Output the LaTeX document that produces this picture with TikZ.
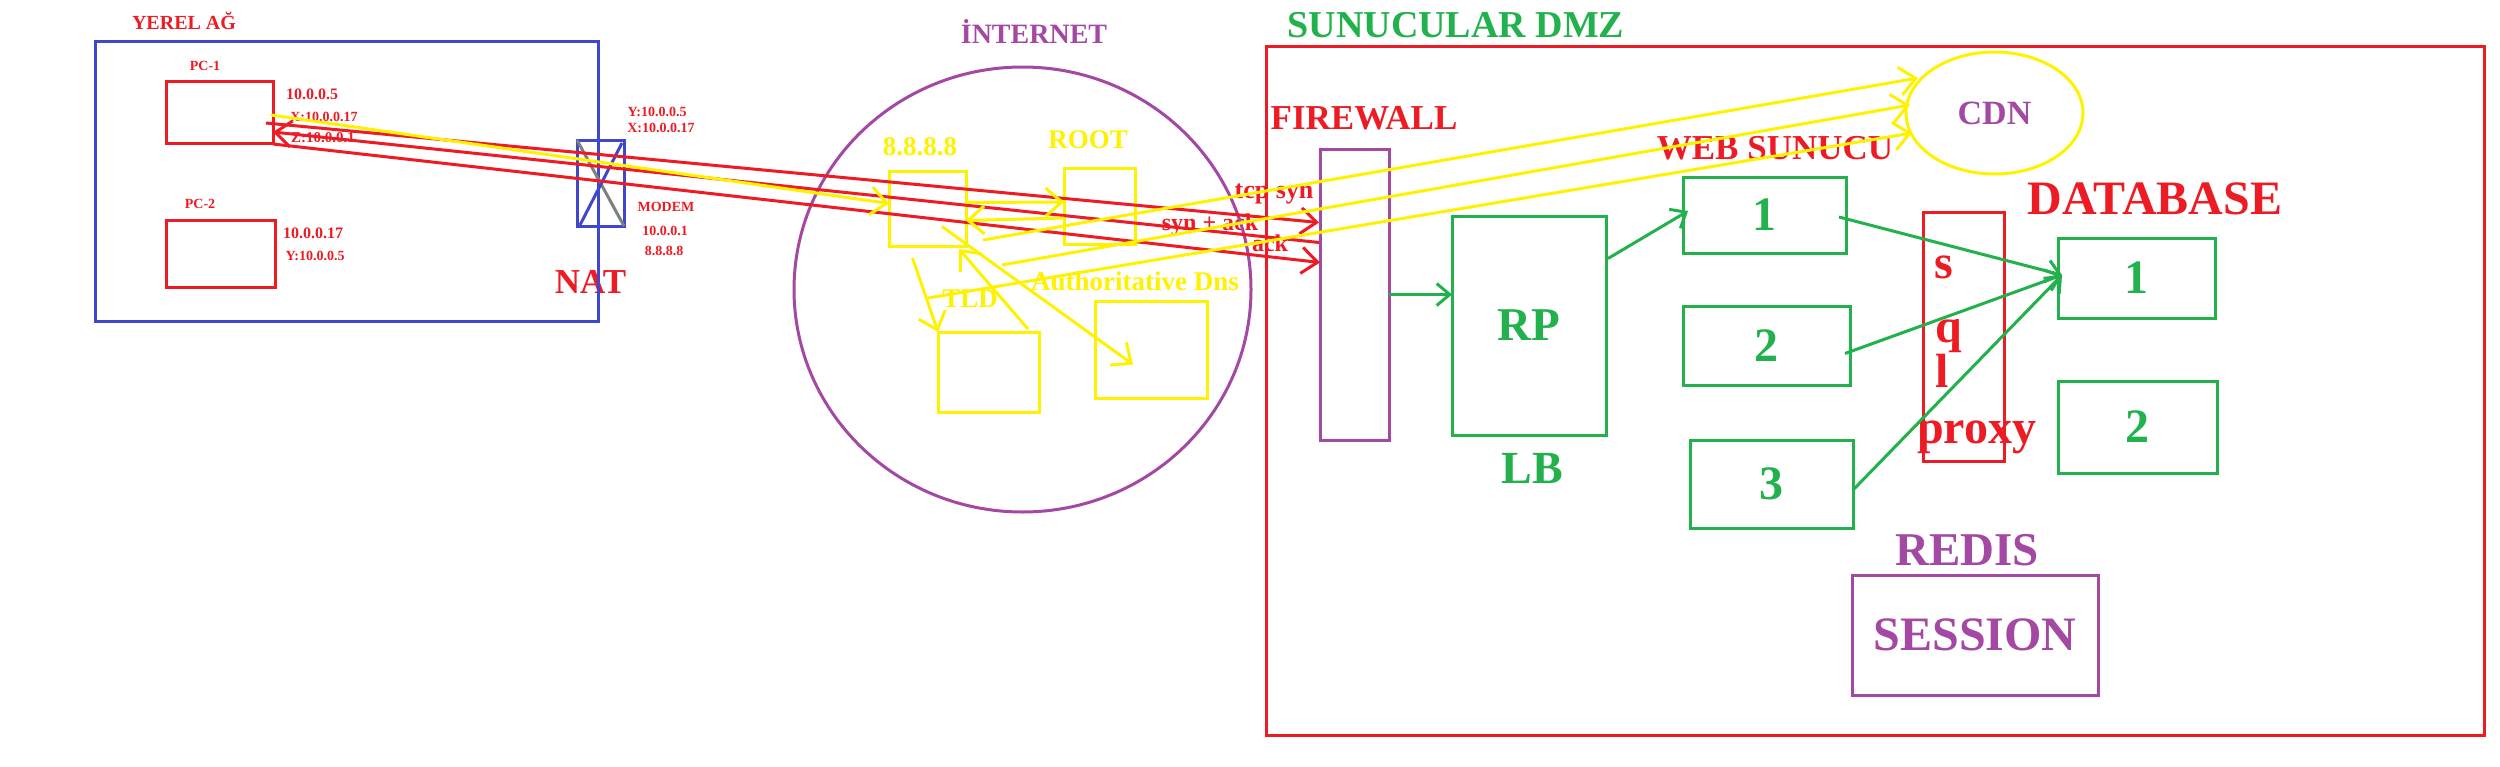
\documentclass[tikz,border=0pt]{standalone}
\usepackage{fontspec}
\setmainfont{Liberation Serif}
\newfontfamily\lsbold{Liberation Serif Bold}
\usetikzlibrary{arrows.meta,shapes.geometric,calc}
\definecolor{pred}{RGB}{237,28,36}
\definecolor{pgreen}{RGB}{34,177,76}
\definecolor{pblue}{RGB}{63,72,204}
\definecolor{ppurple}{RGB}{163,73,164}
\definecolor{pyellow}{RGB}{255,242,0}
\definecolor{pgray}{RGB}{127,127,127}
\newcommand\myfs[1]{\lsbold\fontsize{#1}{#1}\selectfont}
\tikzset{
  bx/.style={draw=#1, rectangle, line width=3pt, inner sep=0pt, outer sep=0pt},
  el/.style={draw=#1, ellipse, line width=3pt, inner sep=0pt, outer sep=0pt},
  tx/.style={inner sep=0pt, outer sep=0pt, anchor=base},
  ya/.style={draw=pyellow, line width=3pt, -{Straight Barb[length=16pt,width=28pt]}},
  ra/.style={draw=pred, line width=3pt, -{Straight Barb[length=16pt,width=26pt]}},
  ga/.style={draw=pgreen, line width=3pt, -{Straight Barb[length=13pt,width=22pt]}},
}
\begin{document}
\begin{tikzpicture}[x=1pt,y=-1pt]
\fill[white] (0,0) rectangle (2500,766);
\useasboundingbox (0,0) rectangle (2500,766);

% ---------- texts ----------
\begin{scope}[text=pred]
\node[tx, font=\myfs{20}] (tyerel) at (184,29) {YEREL AĞ};
\node[tx, font=\myfs{14}] (tpc1) at (205,70) {PC-1};
\node[tx, font=\myfs{16}] (tip1) at (312,99) {10.0.0.5};
\node[tx, font=\myfs{14}] (tx1) at (324,121) {X:10.0.0.17};
\node[tx, font=\myfs{15}] (tz1) at (323,142) {Z:10.0.0.1};
\node[tx, font=\myfs{14}] (tpc2) at (200,208) {PC-2};
\node[tx, font=\myfs{16}] (tip2) at (313,238) {10.0.0.17};
\node[tx, font=\myfs{14}] (ty2) at (315,260) {Y:10.0.0.5};
\node[tx, font=\myfs{14}] (tmy) at (657,116) {Y:10.0.0.5};
\node[tx, font=\myfs{14}] (tmx) at (661,132) {X:10.0.0.17};
\node[tx, font=\myfs{14}] (tmodem) at (666,211) {MODEM};
\node[tx, font=\myfs{14}] (tmip) at (665,235) {10.0.0.1};
\node[tx, font=\myfs{14}] (tmpub) at (664,255) {8.8.8.8};
\node[tx, font=\myfs{35}] (tnat) at (590.5,293) {NAT};
\node[tx, font=\myfs{26}] (tsyn) at (1274,198) {tcp syn};
\node[tx, font=\myfs{24}] (tsynack) at (1210,230) {syn + ack};
\node[tx, font=\myfs{24}] (tack) at (1270,251) {ack};
\node[tx, font=\myfs{35}] (tfw) at (1364,129) {FIREWALL};
\node[tx, font=\myfs{35}] (tweb) at (1775,159) {WEB SUNUCU};
\node[tx, font=\myfs{48}] (tdb) at (2155,214) {DATABASE};
\node[tx, font=\myfs{48}, anchor=base west] (ts) at (1934,278) {s};
\node[tx, font=\myfs{48}, anchor=base west] (tq) at (1935,342) {q};
\node[tx, font=\myfs{48}, anchor=base west] (tl) at (1935,387) {l};
\node[tx, font=\myfs{48}, anchor=base west] (tproxy) at (1917,443) {proxy};
\end{scope}
\node[tx, text=ppurple, font=\myfs{28}] (tnet) at (1034,43) {İNTERNET};
\node[tx, text=pyellow, font=\myfs{27}] (tdns) at (920,155) {8.8.8.8};
\node[tx, text=pyellow, font=\myfs{27}] (troot) at (1088,148) {ROOT};
\node[tx, text=pyellow, font=\myfs{27}] (ttld) at (970,307) {TLD};
\node[tx, text=pyellow, font=\myfs{27}] (tauth) at (1135,290) {Authoritative Dns};
\node[tx, text=pgreen, font=\myfs{38}] (tdmz) at (1456,37) {SUNUCULAR DMZ};
\node[tx, text=pgreen, font=\myfs{46}] (tlb) at (1532,483) {LB};
\node[tx, text=ppurple, font=\myfs{47}] (tredis) at (1967,565) {REDIS};

% ---------- boxes ----------
\node[bx=pblue, minimum width=503pt, minimum height=280pt] (lan) at (346.5,181) {};
\node[bx=pred, minimum width=107pt, minimum height=62pt] (pc1) at (219.5,112) {};
\node[bx=pred, minimum width=109pt, minimum height=67pt] (pc2) at (220.5,253.5) {};
\node[bx=pblue, minimum width=47pt, minimum height=86pt] (modem) at (600.5,183) {};
\draw[pgray, line width=3pt] (modem.north west) -- (modem.south east);
\draw[pblue, line width=3pt] ($(modem.south west)+(3,-1)$) -- ($(modem.north east)+(-2,3)$);

\node[el=ppurple, minimum width=457pt, minimum height=445pt] (net) at (1022.5,289.5) {};
\node[bx=pyellow, minimum width=77pt, minimum height=75pt] (dns) at (927.5,208.5) {};
\node[bx=pyellow, minimum width=71pt, minimum height=76pt] (root) at (1099.5,206) {};
\node[bx=pyellow, minimum width=101pt, minimum height=80pt] (tld) at (988.5,372) {};
\node[bx=pyellow, minimum width=112pt, minimum height=97pt] (auth) at (1151,349.5) {};

\node[bx=pred, minimum width=1218pt, minimum height=689pt] (dmz) at (1875,390.5) {};
\node[bx=ppurple, minimum width=69pt, minimum height=291pt] (fw) at (1354.5,294.5) {};
\node[bx=pgreen, minimum width=154pt, minimum height=219pt, text=pgreen, font=\myfs{47}] (rp) at (1529,325.5) {RP};
\node[bx=pgreen, minimum width=163pt, minimum height=76pt, text=pgreen, font=\myfs{48}] (w1) at (1764.5,215) {1};
\node[bx=pgreen, minimum width=167pt, minimum height=79pt, text=pgreen, font=\myfs{48}] (w2) at (1766.5,345.5) {2};
\node[bx=pgreen, minimum width=163pt, minimum height=88pt, text=pgreen, font=\myfs{48}] (w3) at (1771.5,484) {3};
\node[bx=pred, minimum width=81pt, minimum height=249pt] (sql) at (1963.5,336.5) {};
\node[bx=pgreen, minimum width=157pt, minimum height=80pt, text=pgreen, font=\myfs{48}] (db1) at (2136.5,278) {1};
\node[bx=pgreen, minimum width=159pt, minimum height=92pt, text=pgreen, font=\myfs{48}] (db2) at (2137.5,427) {2};
\node[bx=ppurple, minimum width=246pt, minimum height=120pt, text=ppurple, font=\myfs{48}] (sess) at (1975,635) {SESSION};
\node[el=pyellow, minimum width=177pt, minimum height=122pt, text=ppurple, font=\myfs{34}] (cdn) at (1994.5,113) {CDN};

% ---------- red TCP handshake ----------
\draw[ra] ($(pc1.east)+(-7,11)$) -- ($(fw.west)+(-1,-72)$);
\draw[ra] ($(fw.west)+(-1,-52)$) -- ($(pc1.east)+(0,20)$);
\draw[ra] ($(pc1.east)+(0,32)$) -- ($(fw.west)+(0,-32)$);

% ---------- yellow DNS ----------
\draw[ya] ($(pc1.east)+(-2,3)$) -- ($(dns.west)+(0,-5)$);
\draw[ya] ($(dns.east)+(0,-6)$) -- ($(root.west)+(0,-4)$);
\draw[ya] ($(root.west)+(0,12)$) -- ($(dns.east)+(0,12)$);
\draw[ya] ($(dns.south)+(-15,12)$) -- (tld.north west);
\draw[ya] ($(tld.north east)+(-11,-3)$) -- ($(dns.south east)+(-7,3)$);
\draw[ya] ($(dns.east)+(-24,18)$) -- ($(auth.center)+(-18,15)$);
\coordinate (ca) at (983,240);
\coordinate (cb) at (1002,265);
\coordinate (cc) at (928,298);
\draw[ya] (ca) -- ($(cdn.west)+(12,-35)$);
\draw[ya] (cb) -- ($(cdn.west)+(4,-8)$);
\draw[ya] (cc) -- ($(cdn.west)+(6,20)$);

% ---------- green ----------
\draw[ga] (fw.east) -- (fw.east -| rp.west);
\draw[ga] ($(rp.east)+(2,-67)$) -- ($(w1.west)+(5,-4)$);
\draw[ga] ($(w1.east)+(-7,2)$) -- ($(db1.west)+(4,-3)$);
\draw[ga] ($(w2.east)+(-5,8)$) -- ($(db1.west)+(4,-3)$);
\draw[ga] ($(w3.east)+(0,6)$) -- ($(db1.west)+(4,-3)$);
\end{tikzpicture}
\end{document}
